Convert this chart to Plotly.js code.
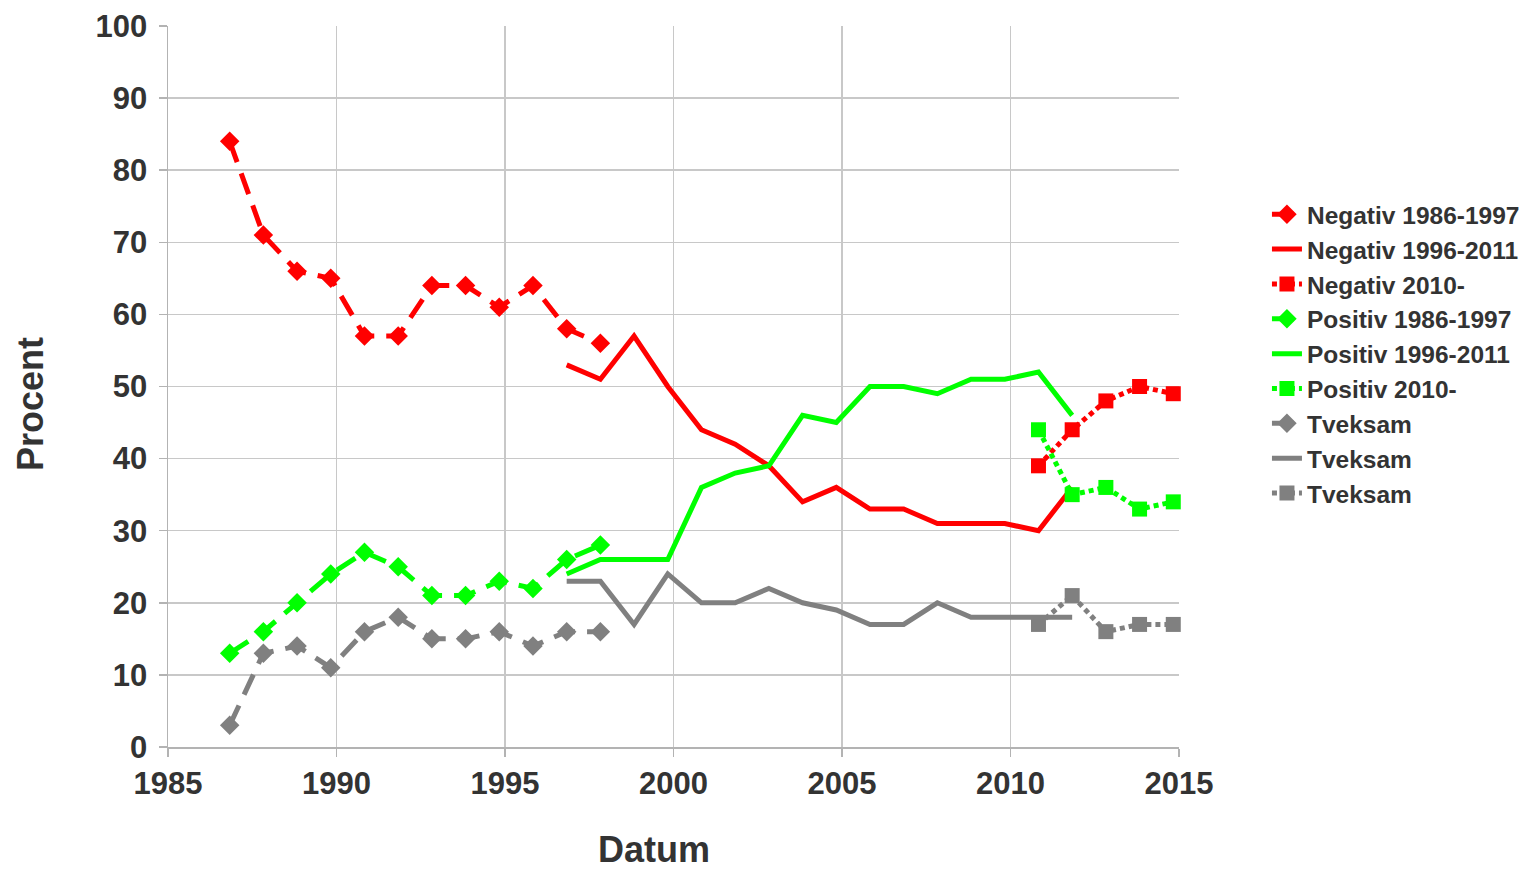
<!DOCTYPE html>
<html>
<head>
<meta charset="utf-8">
<script src="https://cdn.plot.ly/plotly-3.0.1.min.js"></script>
<style>html,body{margin:0;padding:0;background:#fff;}#chart{width:1540px;height:869px;}</style>
</head>
<body>
<div id="chart"></div>
<script>
// Survey dates (fractional years) and percent values
const xEarly = [1986.83, 1987.83, 1988.83, 1989.83, 1990.83, 1991.83, 1992.83, 1993.83, 1994.83, 1995.83, 1996.83, 1997.83];
const xMid = [1996.83, 1997.83, 1998.83, 1999.83, 2000.83, 2001.83, 2002.83, 2003.83, 2004.83, 2005.83, 2006.83, 2007.83, 2008.83, 2009.83, 2010.83, 2011.83];
const xLate = [2010.83, 2011.83, 2012.83, 2013.83, 2014.83];

const negativEarly = [84, 71, 66, 65, 57, 57, 64, 64, 61, 64, 58, 56];
const negativMid = [53, 51, 57, 50, 44, 42, 39, 34, 36, 33, 33, 31, 31, 31, 30, 36];
const negativLate = [39, 44, 48, 50, 49];

const positivEarly = [13, 16, 20, 24, 27, 25, 21, 21, 23, 22, 26, 28];
const positivMid = [24, 26, 26, 26, 36, 38, 39, 46, 45, 50, 50, 49, 51, 51, 52, 46];
const positivLate = [44, 35, 36, 33, 34];

const tveksamEarly = [3, 13, 14, 11, 16, 18, 15, 15, 16, 14, 16, 16];
const tveksamMid = [23, 23, 17, 24, 20, 20, 22, 20, 19, 17, 17, 20, 18, 18, 18, 18];
const tveksamLate = [17, 21, 16, 17, 17];

const seriesNames = ["Negativ 1986-1997", "Negativ 1996-2011", "Negativ 2010-",
  "Positiv 1986-1997", "Positiv 1996-2011", "Positiv 2010-",
  "Tveksam", "Tveksam", "Tveksam"];

const xTitle = "Datum";
const yTitle = "Procent";

const RED = "#ff0000", GREEN = "#00ff00", GREY = "#808080";
const LW = 5;

function early(name, y, color) {
  return {x: xEarly, y: y, name: name, type: "scatter", mode: "lines+markers",
    line: {color: color, width: LW, dash: "22px,12px"},
    marker: {symbol: "diamond", size: 15, color: color}, cliponaxis: false};
}
function mid(name, y, color) {
  return {x: xMid, y: y, name: name, type: "scatter", mode: "lines",
    line: {color: color, width: LW}, cliponaxis: false};
}
function late(name, y, color) {
  return {x: xLate, y: y, name: name, type: "scatter", mode: "lines+markers",
    line: {color: color, width: LW, dash: "5px,4px"},
    marker: {symbol: "square", size: 15, color: color}, cliponaxis: false};
}

const data = [
  early(seriesNames[0], negativEarly, RED),
  mid(seriesNames[1], negativMid, RED),
  late(seriesNames[2], negativLate, RED),
  early(seriesNames[3], positivEarly, GREEN),
  mid(seriesNames[4], positivMid, GREEN),
  late(seriesNames[5], positivLate, GREEN),
  early(seriesNames[6], tveksamEarly, GREY),
  mid(seriesNames[7], tveksamMid, GREY),
  late(seriesNames[8], tveksamLate, GREY)
];

const FONT = "Liberation Sans, Arial, sans-serif";
const TXT = "#333333";
const titleFont = {family: FONT, size: 36, color: TXT, weight: "bold"};

const layout = {
  width: 1540, height: 869,
  margin: {l: 168, r: 361, t: 26, b: 122, pad: 0},
  paper_bgcolor: "#ffffff", plot_bgcolor: "#ffffff",
  font: {family: FONT, color: TXT},
  showlegend: true,
  legend: {x: 1.087, xanchor: "left", y: 0.77, yanchor: "top",
    font: {family: FONT, size: 24.5, color: TXT, weight: "bold"},
    tracegroupgap: 0, itemwidth: 30, bgcolor: "rgba(0,0,0,0)"},
  xaxis: {
    range: [1985, 2015], tickmode: "linear", tick0: 1985, dtick: 5,
    showgrid: true, gridcolor: "#c8c8c8", gridwidth: 1.5,
    showline: true, linecolor: "#b3b3b3", linewidth: 1.5,
    ticks: "outside", ticklen: 8, tickcolor: "#b3b3b3", tickwidth: 1.5,
    tickfont: {family: FONT, size: 31, color: TXT, weight: "bold"},
    zeroline: false, automargin: false
  },
  yaxis: {
    range: [0, 100], tickmode: "linear", tick0: 0, dtick: 10,
    showgrid: true, gridcolor: "#c8c8c8", gridwidth: 1.5,
    showline: true, linecolor: "#b3b3b3", linewidth: 1.5,
    ticks: "outside", ticklen: 8, tickcolor: "#b3b3b3", tickwidth: 1.5,
    ticklabelstandoff: 5,
    tickfont: {family: FONT, size: 31, color: TXT, weight: "bold"},
    zeroline: false, automargin: false
  },
  annotations: [
    {text: yTitle, xref: "paper", yref: "paper", x: -0.1365, y: 0.4757,
     xanchor: "center", yanchor: "middle", textangle: -90, showarrow: false, font: titleFont},
    {text: xTitle, xref: "paper", yref: "paper", x: 0.4807, y: -0.1415,
     xanchor: "center", yanchor: "middle", showarrow: false, font: titleFont}
  ]
};

Plotly.newPlot("chart", data, layout, {displayModeBar: false, staticPlot: true});
</script>
</body>
</html>
